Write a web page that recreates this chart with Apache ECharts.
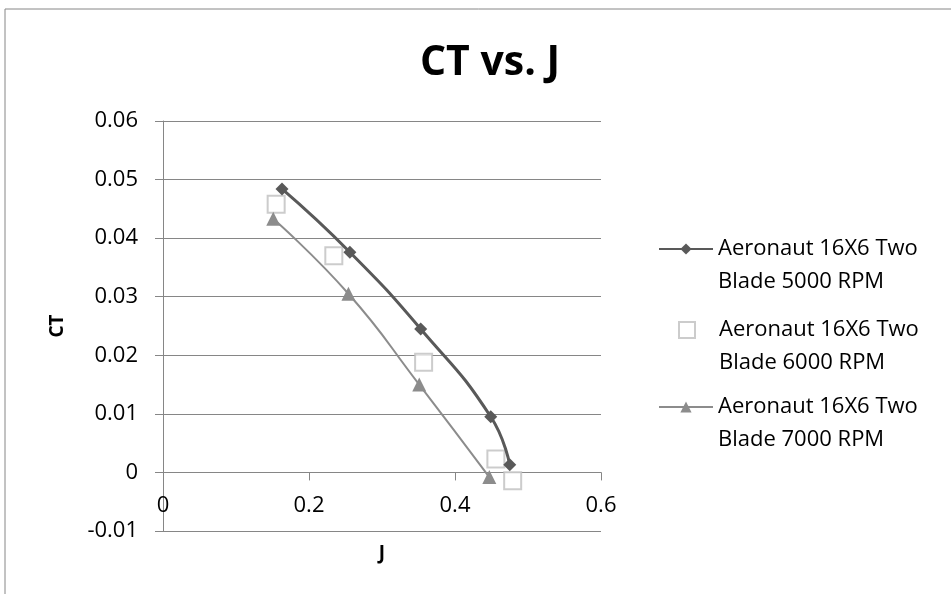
<!DOCTYPE html>
<html>
<head>
<meta charset="utf-8">
<script src="https://cdn.jsdelivr.net/npm/echarts@6/dist/echarts.min.js"></script>
<style>html,body{margin:0;padding:0;background:#fff;}#c{width:951px;height:594px;}</style>
</head>
<body>
<div id="c"></div>
<script>
const chartTitle = 'CT vs. J';
const xName = 'J';
const yName = 'CT';
const seriesNames = [
  'Aeronaut 16X6 Two Blade 5000 RPM',
  'Aeronaut 16X6 Two Blade 6000 RPM',
  'Aeronaut 16X6 Two Blade 7000 RPM'
];
const J5000 = [0.163, 0.256, 0.353, 0.449, 0.475];
const CT5000 = [0.0484, 0.0376, 0.0245, 0.0095, 0.0013];
const J6000 = [0.155, 0.234, 0.357, 0.456, 0.479];
const CT6000 = [0.0458, 0.0370, 0.0188, 0.0023, -0.0014];
const J7000 = [0.151, 0.254, 0.351, 0.447];
const CT7000 = [0.0433, 0.0305, 0.0150, -0.0008];
const xTicks = { min: 0, max: 0.6, interval: 0.2 };
const yTicks = { min: -0.01, max: 0.06, interval: 0.01 };

const pairs = (xs, ys) => xs.map((x, i) => [x, ys[i]]);
const FONT = 'Open Sans';
const AX = '#868686';

const GRID_TOP = 121, GRID_BOTTOM = 63;
const plotH = 594 - GRID_TOP - GRID_BOTTOM;
// distance in px from plot bottom (y = min) up to y = 0, so the J axis sits on zero like the original
const zeroOffset = plotH * (0 - yTicks.min) / (yTicks.max - yTicks.min);

const chart = echarts.init(document.getElementById('c'), null, { renderer: 'canvas' });

function legendFor(i, top, opts) {
  opts = opts || {};
  return {
    data: [{ name: seriesNames[i] }],
    orient: 'vertical',
    left: opts.left || 658,
    top: top,
    padding: 0,
    itemWidth: opts.w || 54,
    itemHeight: opts.h || 14,
    selectedMode: false,
    formatter: n => '\n' + n.replace(' Blade', '\nBlade'),
    textStyle: Object.assign({ fontFamily: FONT, fontSize: 22, color: '#000', lineHeight: 33 }, opts.text || {})
  };
}

chart.setOption({
  backgroundColor: '#fff',
  animation: false,
  title: {
    text: chartTitle,
    left: 485,
    textAlign: 'center',
    top: 38,
    textStyle: { fontFamily: FONT, fontWeight: 'bold', fontSize: 41, color: '#000' }
  },
  graphic: [{
    type: 'rect', shape: { x: 5, y: 9, width: 1000, height: 700 },
    style: { fill: 'none', stroke: AX, lineWidth: 1 }, silent: true, z: -1
  }],
  legend: [
    legendFor(0, 199.5),
    legendFor(1, 280.5, { left: 678, w: 16, h: 16, text: { padding: [0, 0, 0, 19] } }),
    legendFor(2, 357.5)
  ],
  grid: { left: 163, right: 350, top: GRID_TOP, bottom: GRID_BOTTOM, containLabel: false, outerBoundsMode: 'none' },
  xAxis: {
    type: 'value',
    min: xTicks.min, max: xTicks.max, interval: xTicks.interval,
    offset: -zeroOffset,
    name: xName, nameLocation: 'middle', nameGap: 72,
    nameTextStyle: { fontFamily: FONT, fontWeight: 'bold', fontSize: 19, color: '#000' },
    axisLine: { show: true, onZero: false, lineStyle: { color: AX, width: 1 } },
    axisTick: { show: true, length: 8, lineStyle: { color: AX } },
    axisLabel: { fontFamily: FONT, fontSize: 22, color: '#000', margin: 22 },
    splitLine: { show: false }
  },
  yAxis: {
    type: 'value',
    min: yTicks.min, max: yTicks.max, interval: yTicks.interval,
    name: yName, nameLocation: 'middle', nameGap: 96, nameRotate: 90,
    nameTextStyle: { fontFamily: FONT, fontWeight: 'bold', fontSize: 19, color: '#000' },
    axisLine: { show: true, onZero: false, lineStyle: { color: AX, width: 1 } },
    axisTick: { show: true, length: 8, lineStyle: { color: AX } },
    axisLabel: { fontFamily: FONT, fontSize: 22, color: '#000', margin: 25 },
    splitLine: { show: true, lineStyle: { color: AX, width: 1 } }
  },
  series: [
    {
      name: seriesNames[0], type: 'line', smooth: 0.5,
      data: pairs(J5000, CT5000),
      symbol: 'diamond', symbolSize: 13,
      lineStyle: { color: '#595959', width: 3 },
      itemStyle: { color: '#595959' }
    },
    {
      name: seriesNames[1], type: 'scatter',
      data: pairs(J6000, CT6000),
      symbol: 'rect', symbolSize: 17,
      itemStyle: { color: '#fff', borderColor: '#bfbfbf', borderWidth: 2 }
    },
    {
      name: seriesNames[2], type: 'line', smooth: 0.5,
      data: pairs(J7000, CT7000),
      symbol: 'triangle', symbolSize: 14,
      lineStyle: { color: '#8c8c8c', width: 2 },
      itemStyle: { color: '#8c8c8c' }
    }
  ]
});
</script>
</body>
</html>
